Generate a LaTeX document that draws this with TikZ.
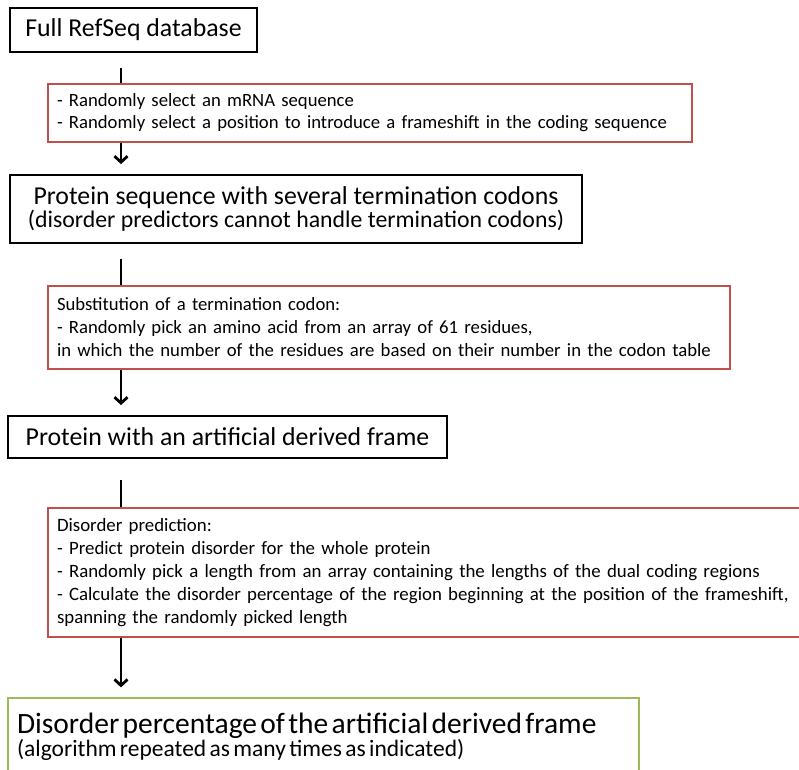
\documentclass[tikz,border=0pt]{standalone}
\usepackage{fontspec}
\setmainfont{Carlito}
\usetikzlibrary{arrows.meta}

\definecolor{fsred}{RGB}{192,80,77}
\definecolor{fsgreen}{RGB}{155,187,89}

\begin{document}
\begin{tikzpicture}[x=1pt, y=-1pt,
  fsbox/.style = {draw=black, line width=1.8pt, inner sep=0pt, align=center},
  fsstep/.style = {draw=fsred, line width=1.3pt, inner sep=0pt, align=left},
  fsresult/.style = {draw=fsgreen, line width=1.3pt, inner sep=0pt, align=left},
  fsbar/.style = {line width=2.8pt},
  fslink/.style = {fsbar, -{Straight Barb[length=6pt, width=13pt]}}
]
  \useasboundingbox (0,0) rectangle (799,769);
  % boxes of the pipeline
  \node[fsbox, minimum width=247pt, minimum height=44pt,
        font=\fontsize{25.8}{28}\selectfont] (refseq) at (133.5,30) {Full RefSeq database};
  \node[fsstep, minimum width=644pt, minimum height=58pt, text width=626pt,
        font=\fontsize{18.7}{22}\selectfont] (select) at (370,113)
    {- Randomly select an mRNA sequence\\
     - Randomly select a position to introduce a frameshift in the coding sequence};
  \node[fsbox, minimum width=572pt, minimum height=68pt] (protseq) at (296,209)
    {{\fontsize{25.8}{26}\selectfont Protein sequence with several termination codons}\\
     {\fontsize{23.8}{27}\selectfont (disorder predictors cannot handle termination codons)}};
  \node[fsstep, minimum width=682pt, minimum height=83pt, text width=664pt,
        font=\fontsize{18.7}{23}\selectfont] (subst) at (389,327.5)
    {Substitution of a termination codon:\\
     - Randomly pick an amino acid from an array of 61 residues,\\
     in which the number of the residues are based on their number in the codon table};
  \node[fsbox, minimum width=439pt, minimum height=42pt,
        font=\fontsize{25.8}{28}\selectfont] (artframe) at (227.5,437)
    {Protein with an artificial derived frame};
  \node[fsstep, minimum width=770pt, minimum height=129pt, text width=752pt,
        font=\fontsize{18.85}{23}\selectfont] (predict) at (433,572.5)
    {Disorder prediction:\\
     - Predict protein disorder for the whole protein\\
     - Randomly pick a length from an array containing the lengths of the dual coding regions\\
     - Calculate the disorder percentage of the region beginning at the position of the frameshift,\\
     spanning the randomly picked length};
  \node[fsresult, minimum width=631pt, minimum height=78pt, text width=613pt] (result) at (323.5,737)
    {{\fontsize{29.5}{30}\selectfont Disorder percentage of the artificial derived frame}\\
     {\fontsize{23.5}{30}\selectfont (algorithm repeated as many times as indicated)}};
  % connectors
  \coordinate (spine) at (121,0);
  \draw[fsbar, shorten <=15pt] (refseq.south -| spine) -- (select.north -| spine);
  \draw[fslink, shorten >=10pt] (select.south -| spine) -- (protseq.north -| spine);
  \draw[fsbar, shorten <=15pt] (protseq.south -| spine) -- (subst.north -| spine);
  \draw[fslink, shorten >=10pt] (subst.south -| spine) -- (artframe.north -| spine);
  \draw[fsbar, shorten <=21pt] (artframe.south -| spine) -- (predict.north -| spine);
  \draw[fslink, shorten >=10pt] (predict.south -| spine) -- (result.north -| spine);
\end{tikzpicture}
\end{document}
